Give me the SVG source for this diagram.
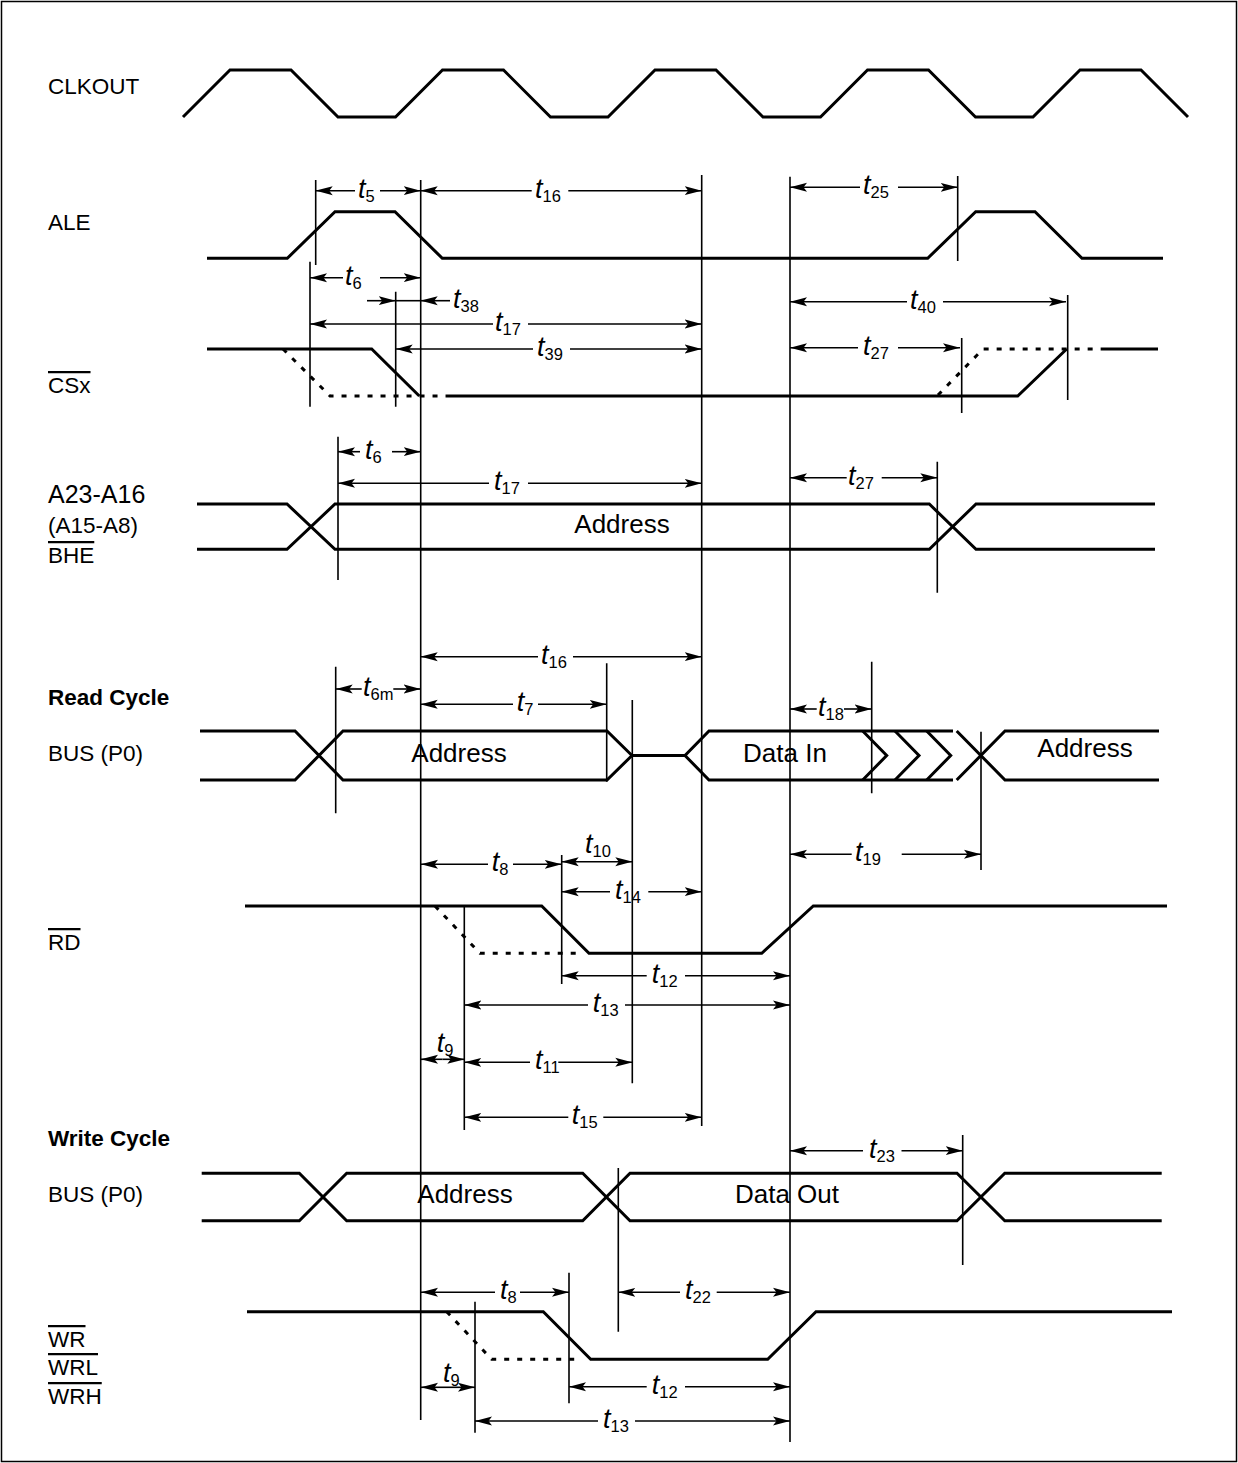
<svg xmlns="http://www.w3.org/2000/svg" width="1238" height="1463" viewBox="0 0 1238 1463">
<style>
.sig{fill:none;stroke:#000;stroke-width:3;stroke-linejoin:miter;stroke-linecap:butt}
.dot{fill:none;stroke:#000;stroke-width:3;stroke-dasharray:5 8}
.vl{stroke:#000;stroke-width:1.6;fill:none}
.ar{stroke:#000;stroke-width:1.6;fill:none;marker-end:url(#ah)}
.ln{stroke:#000;stroke-width:1.6;fill:none}
.lbl{font-family:"Liberation Sans",Arial,sans-serif;font-size:22.5px;fill:#000}
.bold{font-weight:bold}
.big{font-size:25px}
.ov{text-decoration:overline}
.in{font-family:"Liberation Sans",Arial,sans-serif;font-size:26px;fill:#000;text-anchor:middle}
.tl{font-family:"Liberation Sans",Arial,sans-serif;font-size:27px;font-style:italic;fill:#000}
.sub{font-style:normal;font-size:16.5px}
</style>
<defs>
<marker id="ah" viewBox="0 0 17 10" refX="17" refY="5" markerWidth="17" markerHeight="10" markerUnits="userSpaceOnUse" orient="auto">
<path d="M0,0.5 L17,5 L0,9.5 L3.5,5 Z" fill="#000"/>
</marker>
</defs>
<rect x="1.5" y="1.5" width="1235" height="1460" fill="#fff" stroke="#000" stroke-width="1.5"/>

<g id="labels">
<text class="lbl" x="48" y="94">CLKOUT</text>
<text class="lbl" x="48" y="230">ALE</text>
<text class="lbl ov" x="48" y="393">CSx</text>
<text class="lbl big" x="48" y="503">A23-A16</text>
<text class="lbl" x="48" y="533">(A15-A8)</text>
<text class="lbl ov" x="48" y="563">BHE</text>
<text class="lbl bold" x="48" y="705">Read Cycle</text>
<text class="lbl" x="48" y="761">BUS (P0)</text>
<text class="lbl ov" x="48" y="950">RD</text>
<text class="lbl bold" x="48" y="1146">Write Cycle</text>
<text class="lbl" x="48" y="1202">BUS (P0)</text>
<text class="lbl ov" x="48" y="1347">WR</text>
<text class="lbl ov" x="48" y="1375">WRL</text>
<text class="lbl ov" x="48" y="1404">WRH</text>
</g>

<g id="clkout">
<polyline class="sig" points="183,117 230,70 291,70 338,117 395.5,117 442.5,70 503.5,70 550.5,117 608,117 655,70 716,70 763,117 820.5,117 867.5,70 928.5,70 975.5,117 1033,117 1080,70 1141,70 1188,117"/>
</g>

<g id="ale">
<polyline class="sig" points="207,258.3 287.3,258.3 335,211.7 395,211.7 442.3,258.3 927.7,258.3 975.7,211.7 1035,211.7 1082,258.3 1163,258.3"/>
</g>

<g id="csx">
<polyline class="sig" points="207,349 371.7,349 419.3,396"/>
<polyline class="sig" points="447,396 1017.7,396 1066.7,349"/>
<polyline class="sig" points="1102,349 1158,349"/>
<polyline class="dot" points="283,349 330,396 447,396"/>
<polyline class="dot" points="938,395 983,349 1102,349"/>
</g>

<g id="addr-high">
<polyline class="sig" points="197,504 287,504 335,549.3 929.3,549.3 976,504 1155,504"/>
<polyline class="sig" points="197,549.3 287,549.3 335,504 929.3,504 976,549.3 1155,549.3"/>
<text class="in" x="622" y="533">Address</text>
</g>

<g id="bus-read">
<polyline class="sig" points="200,731 295,731 343,780 607,780 632,755.5"/>
<polyline class="sig" points="200,780 295,780 343,731 607,731 632,755.5"/>
<polyline class="sig" points="632,755.5 685,755.5"/>
<polyline class="sig" points="953,731 709,731 685,755.5 709,780 953,780"/>
<polyline class="sig" points="862.7,731 886.7,755.5 862.7,780"/>
<polyline class="sig" points="895,731 919,755.5 895,780"/>
<polyline class="sig" points="926.7,731 950.7,755.5 926.7,780"/>
<polyline class="sig" points="956.7,731 1005,780 1159,780"/>
<polyline class="sig" points="956.7,780 1005,731 1159,731"/>
<text class="in" x="459" y="762">Address</text>
<text class="in" x="785" y="762">Data In</text>
<text class="in" x="1085" y="757">Address</text>
</g>

<g id="rd">
<polyline class="sig" points="245,906 541.7,906 589,953.3 761.7,953.3 813.3,906 1167,906"/>
<polyline class="dot" points="435,906 480,953.3 580,953.3"/>
</g>

<g id="bus-write">
<polyline class="sig" points="201.7,1173.3 299.3,1173.3 346.7,1220.7 582.7,1220.7 630,1173.3 957,1173.3 1004.8,1220.7 1161.7,1220.7"/>
<polyline class="sig" points="201.7,1220.7 299.3,1220.7 346.7,1173.3 582.7,1173.3 630,1220.7 957,1220.7 1004.8,1173.3 1161.7,1173.3"/>
<text class="in" x="465" y="1203">Address</text>
<text class="in" x="787" y="1203">Data Out</text>
</g>

<g id="wr">
<polyline class="sig" points="247,1311.7 543.3,1311.7 590.7,1359.3 767.7,1359.3 816,1311.7 1172,1311.7"/>
<polyline class="dot" points="446.7,1311.7 491.7,1359.3 581.7,1359.3"/>
</g>

<g id="connectors">
<path class="vl" d="M315.7,180V265 M420.7,180V1420 M701.7,175V1126 M790,176.7V1442 M957.7,176V261 M310,261.7V406.7 M395.7,291.7V406.7 M961.7,338V413 M1067.7,295V400 M338,436.7V580 M937.3,461.7V592.7 M335.7,666.7V813.3 M606.7,663.3V781.7 M632.3,700V1083.3 M871.7,661.7V793.3 M981,731.7V870 M561.7,855V984 M464.3,906.7V1130 M618.3,1168V1331.7 M962.7,1135V1265 M569,1272.7V1403.3 M475,1301.7V1432.7"/>

<path class="ar" d="M355,190.7H315.7"/><path class="ar" d="M380,190.7H420.7"/>
<path class="ar" d="M531.7,190.7H420.7"/><path class="ar" d="M568.3,190.7H701.7"/>
<path class="ar" d="M860,187.3H790"/><path class="ar" d="M898,187.3H957.7"/>
<path class="ar" d="M343,277.7H310"/><path class="ar" d="M380,277.7H420.7"/>
<path class="ar" d="M367,300.7H395.7"/><path class="ln" d="M395.7,300.7H420.7"/><path class="ar" d="M450,300.7H420.7"/>
<path class="ar" d="M493,324H310"/><path class="ar" d="M528,324H701.7"/>
<path class="ar" d="M533,349H395.7"/><path class="ar" d="M570,349H701.7"/>
<path class="ar" d="M907,301.7H790"/><path class="ar" d="M943,301.7H1066"/>
<path class="ar" d="M858,347.7H790"/><path class="ar" d="M898,347.7H960"/>
<path class="ar" d="M360,451.7H338"/><path class="ar" d="M392,451.7H420.7"/>
<path class="ar" d="M489,483.3H338"/><path class="ar" d="M528,483.3H701.7"/>
<path class="ar" d="M846.7,477.7H790"/><path class="ar" d="M881.7,477.7H937.3"/>
<path class="ar" d="M538,656.7H420.7"/><path class="ar" d="M573,656.7H701.7"/>
<path class="ar" d="M361.7,689H335.7"/><path class="ar" d="M393.3,689H420.7"/>
<path class="ar" d="M513,704.3H420.7"/><path class="ar" d="M538,704.3H606.7"/>
<path class="ar" d="M816.7,709H790"/><path class="ar" d="M844,709H871.7"/>
<path class="ar" d="M488,864.3H421"/><path class="ar" d="M513,864.3H561.7"/>
<path class="ar" d="M597,861.7H561.7"/><path class="ar" d="M597,861.7H632.3"/>
<path class="ar" d="M851.7,854.3H790"/><path class="ar" d="M901.7,854.3H981"/>
<path class="ar" d="M610,891.7H561.7"/><path class="ar" d="M648.3,891.7H701.7"/>
<path class="ar" d="M646.7,975.7H561.7"/><path class="ar" d="M685,975.7H790"/>
<path class="ar" d="M588,1005H464.3"/><path class="ar" d="M625,1005H790"/>
<path class="ar" d="M442.6,1059.3H421"/><path class="ar" d="M442.6,1059.3H464.3"/>
<path class="ar" d="M530,1062.3H464.3"/><path class="ar" d="M558.3,1062.3H632.3"/>
<path class="ar" d="M568.3,1117.3H464.3"/><path class="ar" d="M603.3,1117.3H701.7"/>
<path class="ar" d="M863,1150.7H790"/><path class="ar" d="M901.5,1150.7H962.7"/>
<path class="ar" d="M495,1292.3H421"/><path class="ar" d="M520,1292.3H569"/>
<path class="ar" d="M680,1292.3H618.3"/><path class="ar" d="M716.7,1292.3H790"/>
<path class="ar" d="M448,1387.3H421"/><path class="ar" d="M448,1387.3H475"/>
<path class="ar" d="M646.7,1386.7H569"/><path class="ar" d="M685,1386.7H790"/>
<path class="ar" d="M598,1421H475"/><path class="ar" d="M635,1421H790"/>
</g>

<g id="timing-labels">
<text class="tl" x="358" y="198">t<tspan class="sub" dy="4">5</tspan></text>
<text class="tl" x="535" y="198">t<tspan class="sub" dy="4">16</tspan></text>
<text class="tl" x="863" y="194">t<tspan class="sub" dy="4">25</tspan></text>
<text class="tl" x="345" y="285">t<tspan class="sub" dy="4">6</tspan></text>
<text class="tl" x="453" y="308">t<tspan class="sub" dy="4">38</tspan></text>
<text class="tl" x="495" y="331">t<tspan class="sub" dy="4">17</tspan></text>
<text class="tl" x="537" y="356">t<tspan class="sub" dy="4">39</tspan></text>
<text class="tl" x="910" y="309">t<tspan class="sub" dy="4">40</tspan></text>
<text class="tl" x="863" y="355">t<tspan class="sub" dy="4">27</tspan></text>
<text class="tl" x="365" y="459">t<tspan class="sub" dy="4">6</tspan></text>
<text class="tl" x="494" y="490">t<tspan class="sub" dy="4">17</tspan></text>
<text class="tl" x="848" y="485">t<tspan class="sub" dy="4">27</tspan></text>
<text class="tl" x="541" y="664">t<tspan class="sub" dy="4">16</tspan></text>
<text class="tl" x="363" y="696">t<tspan class="sub" dy="4">6m</tspan></text>
<text class="tl" x="516.7" y="711">t<tspan class="sub" dy="4">7</tspan></text>
<text class="tl" x="818" y="716">t<tspan class="sub" dy="4">18</tspan></text>
<text class="tl" x="491.7" y="871">t<tspan class="sub" dy="4">8</tspan></text>
<text class="tl" x="585" y="853">t<tspan class="sub" dy="4">10</tspan></text>
<text class="tl" x="855" y="861">t<tspan class="sub" dy="4">19</tspan></text>
<text class="tl" x="615" y="899">t<tspan class="sub" dy="4">14</tspan></text>
<text class="tl" x="651.7" y="983">t<tspan class="sub" dy="4">12</tspan></text>
<text class="tl" x="592.7" y="1012">t<tspan class="sub" dy="4">13</tspan></text>
<text class="tl" x="436.7" y="1051.7">t<tspan class="sub" dy="4">9</tspan></text>
<text class="tl" x="535" y="1069">t<tspan class="sub" dy="4">11</tspan></text>
<text class="tl" x="571.7" y="1124">t<tspan class="sub" dy="4">15</tspan></text>
<text class="tl" x="869" y="1158">t<tspan class="sub" dy="4">23</tspan></text>
<text class="tl" x="500" y="1299">t<tspan class="sub" dy="4">8</tspan></text>
<text class="tl" x="685" y="1299">t<tspan class="sub" dy="4">22</tspan></text>
<text class="tl" x="443" y="1381.7">t<tspan class="sub" dy="4">9</tspan></text>
<text class="tl" x="651.7" y="1394">t<tspan class="sub" dy="4">12</tspan></text>
<text class="tl" x="603" y="1428">t<tspan class="sub" dy="4">13</tspan></text>
</g>
</svg>
